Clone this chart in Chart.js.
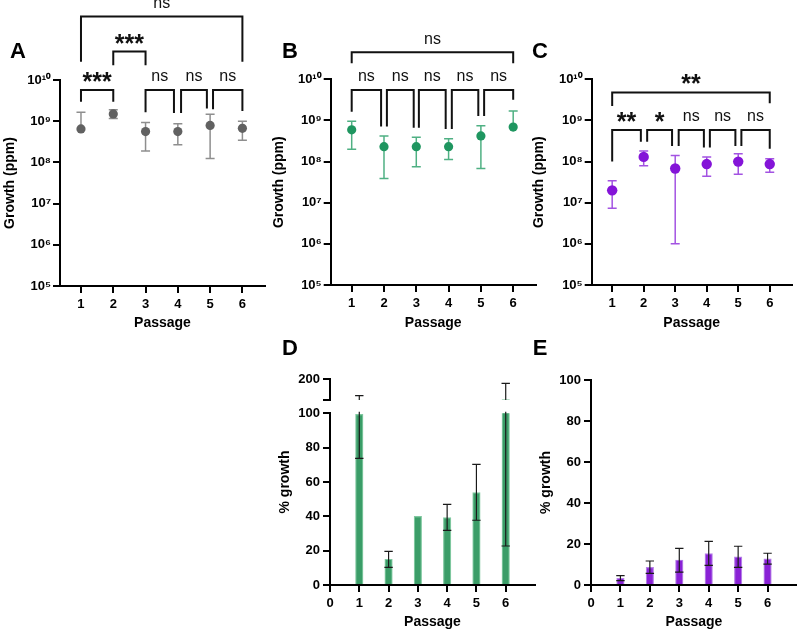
<!DOCTYPE html>
<html>
<head>
<meta charset="utf-8">
<script src="https://cdn.jsdelivr.net/npm/chart.js@4.4.1/dist/chart.umd.min.js"></script>
<style>
  html, body { margin: 0; padding: 0; background: #fff; }
  #wrap { position: relative; width: 797px; height: 631px; overflow: hidden; }
  #wrap canvas { position: absolute; left: 0; top: 0; }
</style>
</head>
<body>
<div id="wrap">
  <canvas id="chart-a" width="797" height="631"></canvas>
  <canvas id="chart-b" width="797" height="631"></canvas>
  <canvas id="chart-c" width="797" height="631"></canvas>
  <canvas id="chart-d-top" width="797" height="631"></canvas>
  <canvas id="chart-d" width="797" height="631"></canvas>
  <canvas id="chart-e" width="797" height="631"></canvas>
</div>
<script>
const passages = [1, 2, 3, 4, 5, 6];
const passageTicks = [0, 1, 2, 3, 4, 5, 6];
const logTicks = [1e5, 1e6, 1e7, 1e8, 1e9, 1e10];
const pctTicks = [0, 20, 40, 60, 80, 100];
const pctBreakTicks = [100, 200];

// Growth (ppm): mean, lower and upper error limits (null = limit falls off the log axis)
const growthA = [6.5e8, 1.5e9, 5.6e8, 5.6e8, 7.9e8, 6.7e8];
const growthALow = [null, 1.17e9, 1.9e8, 2.7e8, 1.25e8, 3.45e8];
const growthAHigh = [1.66e9, 1.9e9, 9.3e8, 8.7e8, 1.47e9, 1.0e9];

const growthB = [5.9e8, 2.3e8, 2.3e8, 2.3e8, 4.2e8, 6.9e8];
const growthBLow = [2.0e8, 3.9e7, 7.5e7, 1.13e8, 6.8e7, null];
const growthBHigh = [9.5e8, 4.2e8, 3.9e8, 3.6e8, 7.4e8, 1.7e9];

const growthC = [2.0e7, 1.3e8, 6.8e7, 8.7e7, 1.0e8, 8.7e7];
const growthCLow = [7.3e6, 7.9e7, 1.0e6, 4.4e7, 4.9e7, 5.5e7];
const growthCHigh = [3.4e7, 1.8e8, 1.4e8, 1.3e8, 1.55e8, 1.17e8];

// % growth
const pctD = [99.4, 15.0, 40.0, 39.2, 53.8, 101.7];
const pctDLow = [73.8, 10.3, null, 31.8, 37.7, 22.7];
const pctDHigh = [121, 19.6, null, 47.0, 70.3, 180.7];

const pctE = [3.3, 8.6, 12.2, 15.3, 13.7, 12.8];
const pctELow = [2.1, 5.7, 6.3, 9.6, 8.6, 10.2];
const pctEHigh = [4.6, 11.7, 17.9, 21.3, 18.9, 15.5];

// significance brackets: passages joined, label, bracket level and leg ends in log10(ppm)
const sigA = [
  { from: 1, to: 2, text: '***', top: 9.76, legs: [9.47, 9.47] },
  { from: 3, to: 3.88, text: 'ns', top: 9.76, legs: [9.22, 9.20] },
  { from: 4.1, to: 4.9, text: 'ns', top: 9.76, legs: [9.20, 9.31] },
  { from: 5.09, to: 6, text: 'ns', top: 9.76, legs: [9.29, 9.25] },
  { from: 2, to: 3, text: '***', top: 10.69, legs: [10.36, 10.36] },
  { from: 1, to: 6, text: 'ns', top: 11.54, legs: [10.44, 10.44] }
];
const sigB = [
  { from: 1, to: 1.91, text: 'ns', top: 9.74, legs: [9.21, 8.85] },
  { from: 2.09, to: 2.92, text: 'ns', top: 9.74, legs: [8.85, 8.82] },
  { from: 3.08, to: 3.91, text: 'ns', top: 9.74, legs: [8.82, 8.79] },
  { from: 4.1, to: 4.92, text: 'ns', top: 9.74, legs: [8.79, 9.11] },
  { from: 5.1, to: 6, text: 'ns', top: 9.74, legs: [9.11, 9.50] },
  { from: 1, to: 6, text: 'ns', top: 10.66, legs: [10.39, 10.39] }
];
const sigC = [
  { from: 1, to: 1.91, text: '**', top: 8.77, legs: [8.0, 8.48] },
  { from: 2.11, to: 2.9, text: '*', top: 8.77, legs: [8.48, 8.38] },
  { from: 3.11, to: 3.91, text: 'ns', top: 8.77, legs: [8.38, 8.34] },
  { from: 4.1, to: 4.91, text: 'ns', top: 8.77, legs: [8.34, 8.38] },
  { from: 5.1, to: 6, text: 'ns', top: 8.77, legs: [8.38, 8.31] },
  { from: 1, to: 6, text: '**', top: 9.68, legs: [9.35, 9.42] }
];

const FONT = "'Liberation Sans', Arial, Helvetica, sans-serif";
Chart.defaults.font.family = FONT;
Chart.defaults.color = '#000';

const SUP = { '0': '\u2070', '1': '\u00b9', '2': '\u00b2', '3': '\u00b3', '4': '\u2074',
  '5': '\u2075', '6': '\u2076', '7': '\u2077', '8': '\u2078', '9': '\u2079' };
function powerLabel(v) {
  const e = String(Math.round(Math.log10(v)));
  return '10' + e.split('').map(c => SUP[c]).join('');
}

function inkText(ctx, text, x, y, font) {
  ctx.font = font;
  ctx.textAlign = 'center';
  ctx.textBaseline = 'alphabetic';
  const m = ctx.measureText(text);
  ctx.fillText(text, x, y + (m.actualBoundingBoxAscent - m.actualBoundingBoxDescent) / 2);
}

function drawErrors(chart, e) {
  const { ctx, chartArea: a } = chart;
  const xs = chart.scales.x, ys = chart.scales.y;
  ctx.save();
  ctx.beginPath();
  ctx.rect(a.left, a.top - 1.5, a.right - a.left, a.bottom - a.top + 1.5);
  ctx.clip();
  ctx.strokeStyle = e.color;
  ctx.lineWidth = e.width;
  passages.forEach((p, i) => {
    const hi = e.high[i], lo = e.low[i];
    if (hi == null) return;
    const x = xs.getPixelForValue(p);
    const yHi = ys.getPixelForValue(hi);
    const yLo = ys.getPixelForValue(lo == null ? e.mean[i] : lo);
    ctx.beginPath();
    ctx.moveTo(x, yLo);
    ctx.lineTo(x, yHi);
    ctx.moveTo(x - e.cap, yHi);
    ctx.lineTo(x + e.cap, yHi);
    if (lo != null) {
      ctx.moveTo(x - e.cap, yLo);
      ctx.lineTo(x + e.cap, yLo);
    }
    ctx.stroke();
  });
  ctx.restore();
}

function drawBrackets(chart, list) {
  const { ctx } = chart;
  const xs = chart.scales.x, ys = chart.scales.y;
  const py = e => ys.getPixelForValue(Math.pow(10, e));
  ctx.save();
  ctx.strokeStyle = '#111';
  ctx.fillStyle = '#111';
  ctx.lineWidth = 2;
  ctx.lineJoin = 'miter';
  list.forEach(b => {
    const x1 = xs.getPixelForValue(b.from), x2 = xs.getPixelForValue(b.to);
    const top = py(b.top);
    ctx.beginPath();
    ctx.moveTo(x1, py(b.legs[0]));
    ctx.lineTo(x1, top);
    ctx.lineTo(x2, top);
    ctx.lineTo(x2, py(b.legs[1]));
    ctx.stroke();
    const font = b.text === 'ns' ? '16px ' + FONT : 'bold 25px ' + FONT;
    inkText(ctx, b.text, (x1 + x2) / 2, top - 13, font);
  });
  ctx.restore();
}

function overlay(cfg) {
  return {
    id: 'overlay',
    beforeDatasetsDraw(chart) {
      if (cfg.err && !cfg.err.onTop) drawErrors(chart, cfg.err);
    },
    afterDatasetsDraw(chart) {
      if (cfg.err && cfg.err.onTop) drawErrors(chart, cfg.err);
    },
    afterDraw(chart) {
      const ctx = chart.ctx;
      if (cfg.brackets) drawBrackets(chart, cfg.brackets);
      ctx.save();
      ctx.fillStyle = '#000';
      if (cfg.letter) inkText(ctx, cfg.letter[0], cfg.letter[1], cfg.letter[2], 'bold 22px ' + FONT);
      if (cfg.yTitle) {
        ctx.translate(cfg.yTitle[1], cfg.yTitle[2]);
        ctx.rotate(-Math.PI / 2);
        ctx.font = 'bold 14px ' + FONT;
        ctx.textAlign = 'center';
        ctx.textBaseline = 'middle';
        ctx.fillText(cfg.yTitle[0], 0, 0);
      }
      ctx.restore();
    }
  };
}

// plot frame in page pixels: chart area edges, y axis width, x axis height
function frame(l, t, r, b, yW, xH) {
  return {
    padding: { left: l - yW, top: t, right: 797 - r, bottom: 631 - b - xH },
    yFit: s => { s.width = yW; },
    xFit: s => { s.height = xH; }
  };
}

const axisLine = { display: true, color: '#000', width: 2 };
const tickGrid = { display: true, drawOnChartArea: false, offset: false, color: '#000', lineWidth: 2, tickLength: 7 };
const tickFont = { size: 13, weight: 'bold' };
const titleFont = { size: 14, weight: 'bold' };

function passageAxis(f, min, max, ticks) {
  return {
    type: 'linear', min: min, max: max, offset: false,
    afterBuildTicks: s => { s.ticks = ticks.map(v => ({ value: v })); },
    afterFit: f.xFit,
    grid: tickGrid, border: axisLine,
    ticks: { font: tickFont, padding: 4, maxRotation: 0 },
    title: { display: true, text: 'Passage', font: titleFont, padding: 0 }
  };
}

function growthChart(id, f, mean, low, high, point, err, sig, letter) {
  new Chart(document.getElementById(id), {
    type: 'scatter',
    data: {
      datasets: [{
        data: passages.map((p, i) => ({ x: p, y: mean[i] })),
        backgroundColor: point.color, borderWidth: 0,
        pointRadius: point.radius, pointHoverRadius: point.radius
      }]
    },
    options: {
      responsive: false, animation: false, events: [],
      layout: { padding: f.padding },
      plugins: { legend: { display: false }, tooltip: { enabled: false } },
      scales: {
        x: passageAxis(f, 0.35, 6.7, passages),
        y: {
          type: 'logarithmic', min: 1e5, max: 1e10,
          afterBuildTicks: s => { s.ticks = logTicks.map(v => ({ value: v })); },
          afterFit: f.yFit,
          grid: tickGrid, border: axisLine,
          ticks: { font: tickFont, padding: 2, callback: v => powerLabel(v) },
          title: { display: true, text: 'Growth (ppm)', font: titleFont, padding: 0 }
        }
      }
    },
    plugins: [overlay({
      err: { mean: mean, low: low, high: high, color: err, width: 1.5, cap: 4.5 },
      brackets: sig, letter: letter
    })]
  });
}

growthChart('chart-a', frame(60, 80, 265, 286, 58.4, 45.4), growthA, growthALow, growthAHigh,
  { color: '#616161', radius: 4.6 }, '#8e8e8e', sigA, ['A', 18, 50]);
growthChart('chart-b', frame(330.7, 79.3, 535.8, 285, 60.1, 46.4), growthB, growthBLow, growthBHigh,
  { color: '#1f9660', radius: 4.6 }, '#4fb083', sigB, ['B', 290, 50]);
growthChart('chart-c', frame(591.7, 79.3, 797, 285, 61.1, 46.4), growthC, growthCLow, growthCHigh,
  { color: '#8414d8', radius: 5.2 }, '#a353e2', sigC, ['C', 540, 50]);

function pctChart(id, f, mean, low, high, fill, edge, yMin, yMax, yTicks, opts) {
  new Chart(document.getElementById(id), {
    type: 'bar',
    data: {
      datasets: [{
        data: passages.map((p, i) => ({ x: p, y: mean[i] })),
        backgroundColor: fill, borderColor: edge, borderWidth: 1.2,
        barThickness: 7.5, clip: 0
      }]
    },
    options: {
      responsive: false, animation: false, events: [],
      layout: { padding: f.padding },
      plugins: { legend: { display: false }, tooltip: { enabled: false } },
      scales: {
        x: opts.showX ? passageAxis(f, 0, 7, passageTicks)
          : { type: 'linear', min: 0, max: 7, offset: false, display: false },
        y: {
          type: 'linear', min: yMin, max: yMax,
          afterBuildTicks: s => { s.ticks = yTicks.map(v => ({ value: v })); },
          afterFit: f.yFit,
          grid: tickGrid, border: axisLine,
          ticks: { font: tickFont, padding: 3, callback: v => (opts.hideTick === v ? '' : String(v)) },
          title: { display: !!opts.title, text: '% growth', font: titleFont, padding: 0 }
        }
      }
    },
    plugins: [overlay({
      err: { mean: mean, low: low, high: high, color: '#1a1a1a', width: 1.2, cap: 4.2, onTop: true },
      letter: opts.letter, yTitle: opts.yTitle
    })]
  });
}

// panel D: broken y axis drawn as two stacked plots sharing the passage axis
pctChart('chart-d-top', frame(330, 379.3, 535, 400, 50, 0), pctD, pctDLow, pctDHigh,
  '#3b9d68', '#80c8a0', 100, 200, pctBreakTicks, { showX: false, hideTick: 100 });
pctChart('chart-d', frame(330, 413.3, 535, 585, 50, 46), pctD, pctDLow, pctDHigh,
  '#3b9d68', '#80c8a0', 0, 100, pctTicks, { showX: true, letter: ['D', 290, 347], yTitle: ['% growth', 285, 482] });
pctChart('chart-e', frame(591, 380, 797, 585, 53.4, 46), pctE, pctELow, pctEHigh,
  '#8a22d6', '#b680e8', 0, 100, pctTicks, { showX: true, title: true, letter: ['E', 540, 347] });
</script>
</body>
</html>
